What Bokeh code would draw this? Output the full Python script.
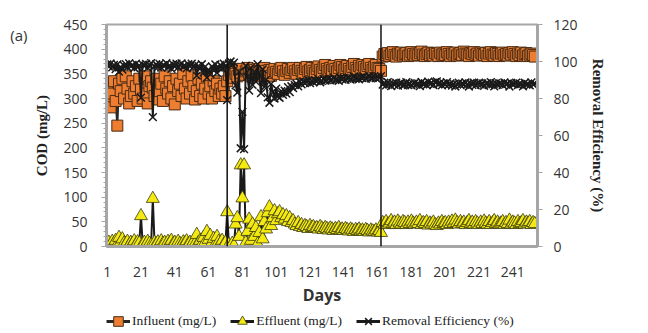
import numpy as np
from bokeh.plotting import figure
from bokeh.layouts import column
from bokeh.models import LinearAxis, Range1d, FixedTicker, Span, Legend, LegendItem
from bokeh.embed import file_html
from bokeh.resources import INLINE

days = list(range(1, 255))

influent = [
    320, 300, 282, 310, 335, 295, 245, 330, 315, 340,
    300, 345, 320, 290, 305, 335, 310, 325, 295, 340,
    318, 300, 345, 310, 290, 325, 335, 322, 305, 340,
    298, 315, 330, 295, 345, 320, 310, 335, 300, 325,
    288, 340, 315, 330, 305, 350, 320, 300, 335, 310,
    345, 325, 298, 315, 340, 305, 330, 300, 320, 345,
    310, 325, 300, 335, 315, 330, 305, 320, 310, 325, 305,
    335, 348, 355, 342, 360, 350, 345, 358, 352, 360,
    348, 355, 362, 350, 345, 358, 352, 348, 360, 355,
    350, 345, 362, 356, 350, 358, 346, 352, 360, 354,
    350, 358, 362, 355, 348, 356, 360, 352, 358, 362,
    355, 350, 358, 362, 356, 352, 360, 364, 355, 358,
    362, 356, 352, 360, 365, 358, 354, 362, 368, 360,
    356, 362, 358, 366, 360, 355, 362, 368, 364, 358,
    362, 366, 360, 356, 364, 370, 362, 358, 366, 362,
    368, 364, 360, 366, 370, 362, 358, 364, 368, 362,
    360, 356,
    385, 390, 388, 392, 386, 390, 394, 388, 385, 391,
    389, 393, 387, 390, 392, 386, 389, 394, 390, 387,
    391, 388, 392, 395, 389, 386, 390, 393, 388, 391,
    387, 392, 390, 386, 393, 389, 391, 388, 394, 390,
    386, 391, 389, 393, 387, 390, 392, 388, 395, 391,
    389, 386, 392, 390, 394, 388, 391, 387, 393, 390,
    388, 392, 386, 391, 394, 389, 387, 392, 390, 386,
    391, 393, 388, 390, 387, 392, 389, 394, 390, 386,
    391, 388, 393, 387, 390, 392, 386, 389, 391, 388,
    385,
]

effluent = [
    5, 8, 3, 10, 6, 12, 4, 18, 9, 15,
    7, 5, 10, 3, 8, 6, 11, 4, 9, 7,
    62, 5, 8, 4, 10, 6, 3, 97, 8, 5,
    9, 4, 11, 6, 8, 3, 10, 7, 12, 5,
    8, 4, 10, 6, 3, 9, 7, 11, 5, 8,
    4, 10, 6, 24, 8, 12, 5, 18, 9, 30,
    14, 22, 8, 16, 5, 20, 10, 6, 12, 4, 8,
    70, 4, 0, 6, 2, 45, 58, 20, 165, 98, 165,
    8, 30, 55, 12, 45, 20, 38, 5, 28, 60,
    15, 50, 35, 68, 80, 42, 58, 72, 52, 66,
    70, 58, 64, 55, 62, 50, 58, 48, 52, 45,
    42, 48, 40, 44, 38, 42, 40, 36, 42, 38,
    40, 36, 38, 35, 40, 37, 34, 38, 36, 33,
    37, 35, 32, 36, 34, 38, 33, 35, 32, 36,
    34, 31, 35, 33, 30, 34, 32, 35, 31, 33,
    30, 34, 32, 29, 33, 31, 30, 33, 29, 32,
    28,
    48, 45, 50, 44, 47, 52, 46, 49, 44, 51,
    47, 45, 50, 48, 44, 49, 46, 51, 47, 45,
    49, 46, 52, 44, 48, 46, 50, 43, 47, 45,
    49, 44, 42, 47, 45, 50, 46, 48, 44, 49,
    46, 51, 47, 53, 48, 45, 50, 46, 49, 44,
    48, 52, 46, 49, 45, 50, 47, 44, 49, 46,
    51, 47, 45, 50, 44, 48, 52, 46, 49, 45,
    47, 50, 44, 48, 46, 53, 45, 49, 47, 44,
    50, 46, 48, 52, 45, 49, 47, 50, 44, 48,
    46,
]

removal = [
    98.4, 97.3, 98.9, 96.8, 98.2, 95.9, 98.4, 94.5, 97.1, 95.6,
    97.7, 98.6, 96.9, 99.0, 97.4, 98.2, 96.5, 98.8, 96.9, 97.9,
    80.5, 98.3, 97.7, 98.7, 96.6, 98.2, 99.1, 69.9, 97.4, 98.5,
    97.0, 98.7, 96.7, 98.0, 97.7, 99.1, 96.8, 97.9, 96.0, 98.5,
    97.2, 98.8, 96.8, 98.2, 99.0, 97.4, 97.8, 96.3, 98.5, 97.4,
    98.8, 96.9, 98.0, 92.4, 97.6, 96.1, 98.5, 94.0, 97.2, 91.3,
    95.5, 93.2, 97.3, 95.2, 98.4, 93.9, 96.7, 98.1, 96.1, 98.8, 97.4,
    79.1, 98.9, 100.0, 98.2, 99.4, 87.1, 83.2, 94.4, 53.1, 72.8, 52.6,
    97.7, 91.7, 84.3, 96.5, 87.4, 94.3, 89.1, 98.6, 92.1, 82.9,
    95.7, 86.2, 90.2, 80.6, 77.7, 87.9, 83.5, 80.0, 85.3, 81.1,
    80.4, 84.0, 82.0, 84.2, 82.6, 86.1, 83.5, 86.6, 85.6, 87.3,
    88.0, 86.6, 89.0, 87.6, 89.2, 88.3, 89.0, 89.9, 88.3, 89.5,
    88.8, 89.8, 89.4, 90.4, 88.8, 89.5, 90.6, 89.7, 90.0, 90.7,
    89.8, 90.2, 91.3, 90.0, 90.4, 89.5, 91.0, 90.4, 91.1, 90.1,
    90.7, 91.4, 90.2, 90.9, 91.9, 90.6, 91.1, 90.4, 91.4, 91.0,
    91.8, 90.6, 91.3, 92.2, 90.9, 91.3, 91.8, 91.0, 92.0, 91.1,
    92.1,
    87.5, 88.5, 87.1, 88.8, 87.8, 86.7, 88.3, 87.4, 88.6, 87.0,
    87.9, 88.5, 87.1, 87.7, 88.8, 87.3, 88.2, 87.1, 87.9, 88.4,
    87.5, 88.1, 86.7, 88.9, 87.7, 88.1, 87.2, 89.1, 87.9, 88.5,
    87.3, 88.8, 89.2, 87.8, 88.5, 87.1, 88.2, 87.6, 88.8, 87.4,
    88.1, 87.0, 87.9, 86.5, 87.6, 88.5, 87.2, 88.1, 87.6, 88.7,
    87.7, 86.5, 88.3, 87.4, 88.6, 87.1, 88.0, 88.6, 87.5, 88.2,
    86.9, 88.0, 88.3, 87.2, 88.8, 87.7, 86.6, 88.3, 87.4, 88.3,
    88.0, 87.3, 88.7, 87.7, 88.1, 86.5, 88.4, 87.6, 87.9, 88.6,
    87.2, 88.1, 87.8, 86.6, 88.5, 87.5, 87.8, 87.1, 88.7, 87.6,
    88.1,
]

phase_changes = [72, 163]
x_ticks = [1, 21, 41, 61, 81, 101, 121, 141, 161, 181, 201, 221, 241]
cod_ticks = [0, 50, 100, 150, 200, 250, 300, 350, 400, 450]
re_ticks = [0, 20, 40, 60, 80, 100, 120]
panel_tag = "(a)"
panel_tag_at = 428
series_names = ["Influent (mg/L)", "Effluent (mg/L)", "Removal Efficiency (%)"]

GREY = "#a6a6a6"
TXT = "#333333"
INF_STYLE = dict(marker="square", size=11, fill_color="#ED7D31", line_color="#4a2c14", line_width=1)
EFF_STYLE = dict(marker="triangle", size=13, fill_color="#F4EA12", line_color="#3a3a10", line_width=0.8)
RE_STYLE = dict(marker="x", size=11, line_color="#1a1a1a", line_width=1.5)

p = figure(width=648, height=309, output_backend="svg", toolbar_location=None,
           x_range=Range1d(0.6, 255.6), y_range=Range1d(0, 450),
           min_border_left=106, min_border_right=111, min_border_top=24, min_border_bottom=63,
           x_axis_location=None, y_axis_location=None)
p.extra_y_ranges = {"re": Range1d(0, 120)}
p.grid.visible = False
p.outline_line_color = GREY
p.outline_line_width = 2
p.background_fill_color = "white"
p.border_fill_color = "white"

# left axis
ya = LinearAxis(ticker=FixedTicker(ticks=cod_ticks, minor_ticks=list(range(0, 451, 10))))
ya.axis_line_color = GREY
ya.axis_line_width = 3
ya.major_tick_line_color = GREY
ya.minor_tick_line_color = GREY
ya.major_tick_out = 5
ya.major_tick_in = 0
ya.minor_tick_out = 3
ya.minor_tick_in = 0
ya.major_label_text_font = "Open Sans"
ya.major_label_text_font_size = "14px"
ya.major_label_text_color = TXT
ya.major_label_standoff = 14
ya.axis_label = "COD (mg/L)"
ya.axis_label_text_font = "Liberation Serif"
ya.axis_label_text_font_style = "bold"
ya.axis_label_text_font_size = "15px"
ya.axis_label_text_color = "#222222"
ya.axis_label_standoff = 10
p.add_layout(ya, "left")

# panel tag "(a)" drawn as the single label of a bare outer left axis
aa = LinearAxis(ticker=FixedTicker(ticks=[panel_tag_at], minor_ticks=[]),
                major_label_overrides={panel_tag_at: panel_tag})
aa.axis_line_color = None
aa.major_tick_line_color = None
aa.minor_tick_line_color = None
aa.major_tick_out = 0
aa.major_tick_in = 0
aa.major_label_standoff = 4
aa.major_label_text_font = "Open Sans"
aa.major_label_text_font_size = "15px"
aa.major_label_text_color = TXT
p.add_layout(aa, "left")

# bottom axis
xa = LinearAxis(ticker=FixedTicker(ticks=x_ticks, minor_ticks=[]))
xa.axis_line_color = GREY
xa.axis_line_width = 3
xa.major_tick_line_color = None
xa.minor_tick_line_color = None
xa.major_tick_out = 0
xa.major_tick_in = 0
xa.major_label_text_font = "Open Sans"
xa.major_label_text_font_size = "14px"
xa.major_label_text_color = TXT
xa.major_label_standoff = 20
xa.axis_label = "Days"
xa.axis_label_text_font = "Open Sans"
xa.axis_label_text_font_style = "bold"
xa.axis_label_text_font_size = "16px"
xa.axis_label_text_color = "#333333"
xa.axis_label_standoff = 4
p.add_layout(xa, "below")

# right axis
ra = LinearAxis(y_range_name="re", ticker=FixedTicker(ticks=re_ticks, minor_ticks=[]))
ra.axis_line_color = GREY
ra.axis_line_width = 3
ra.major_tick_line_color = GREY
ra.major_tick_out = 5
ra.major_tick_in = 0
ra.major_label_text_font = "Open Sans"
ra.major_label_text_font_size = "14px"
ra.major_label_text_color = TXT
ra.major_label_standoff = 11
ra.axis_label = "Removal Efficiency (%)"
ra.axis_label_text_font = "Liberation Serif"
ra.axis_label_text_font_style = "bold"
ra.axis_label_text_font_size = "15px"
ra.axis_label_text_color = "#222222"
ra.axis_label_standoff = 9
p.add_layout(ra, "right")

# series
p.line(days, influent, line_color="#262626", line_width=2)
p.scatter(days, influent, **INF_STYLE)
p.line(days, effluent, line_color="#1a1a1a", line_width=2)
p.scatter(days, effluent, **EFF_STYLE)
p.line(days, removal, y_range_name="re", line_color="#1a1a1a", line_width=2)
p.scatter(days, removal, y_range_name="re", **RE_STYLE)

for d in phase_changes:
    p.add_layout(Span(location=d, dimension="height", line_color="#111111", line_width=1.5))

# legend strip: a separate figure under the chart holding only the legend
lf = figure(width=648, height=24, output_backend="svg", toolbar_location=None,
            x_range=Range1d(0, 1), y_range=Range1d(0, 1),
            min_border_left=106, min_border_right=111, min_border_top=0, min_border_bottom=0,
            x_axis_location=None, y_axis_location=None)
lf.grid.visible = False
lf.outline_line_color = None
lf.background_fill_color = "white"
lf.border_fill_color = "white"
blank = np.array([np.nan])
l1 = lf.line(blank, blank, line_color="#262626", line_width=3)
m1 = lf.scatter(blank, blank, **INF_STYLE)
l2 = lf.line(blank, blank, line_color="#1a1a1a", line_width=3)
m2 = lf.scatter(blank, blank, **EFF_STYLE)
l3 = lf.line(blank, blank, line_color="#1a1a1a", line_width=3)
m3 = lf.scatter(blank, blank, **RE_STYLE)

legend = Legend(items=[
    LegendItem(label=series_names[0], renderers=[l1, m1]),
    LegendItem(label=series_names[1], renderers=[l2, m2]),
    LegendItem(label=series_names[2], renderers=[l3, m3]),
], location=(0, 0), orientation="horizontal")
legend.background_fill_alpha = 0
legend.border_line_color = None
legend.label_text_font = "Liberation Serif"
legend.label_text_font_size = "13.5px"
legend.label_text_color = "#222222"
legend.glyph_width = 24
legend.glyph_height = 24
legend.label_height = 24
legend.spacing = 14
legend.padding = 0
legend.margin = 0
legend.label_standoff = 2
lf.add_layout(legend)

open("out.html", "w").write(file_html(column(p, lf), INLINE))
